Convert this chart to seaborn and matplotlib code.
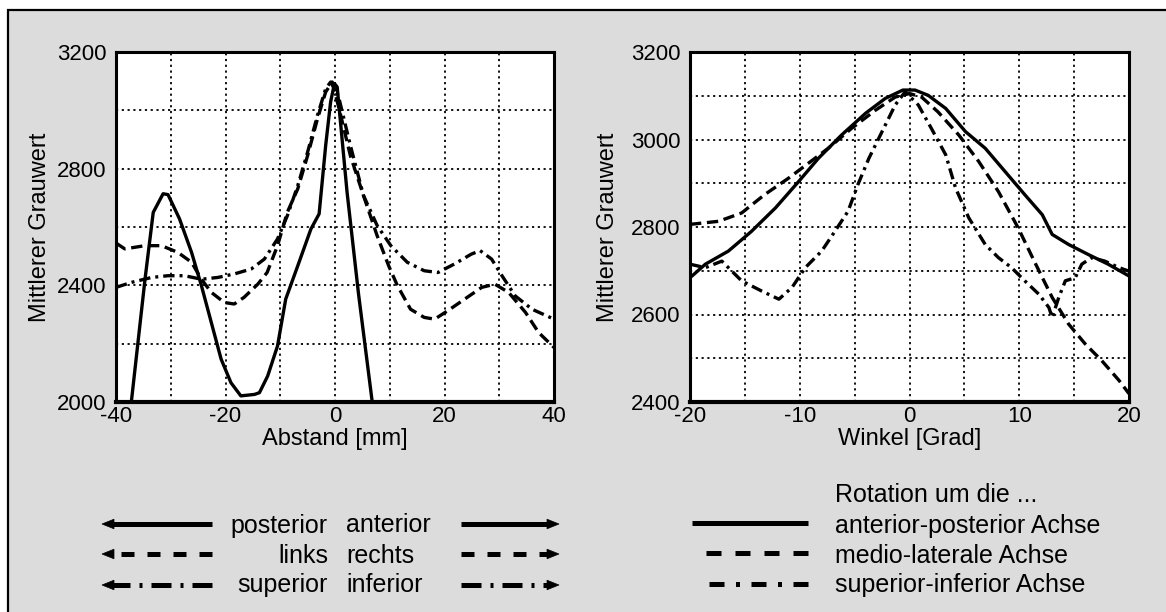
import matplotlib
matplotlib.use("Agg")
import numpy as np
import pandas as pd
import seaborn as sns
import matplotlib.pyplot as plt
from matplotlib.patches import Rectangle, Polygon

plt.rcParams['font.family'] = ['Liberation Sans', 'DejaVu Sans']
plt.rcParams['axes.unicode_minus'] = False

# ---------------- data: left panel (Abstand [mm]) ----------------
pa_x = [-37.6, -37.2, -34.7, -33.2, -31.4, -30.5, -28.4, -26.2, -24.4, -22.6, -20.8, -19.0,
        -17.2, -14.7, -13.8, -12.3, -10.5, -9.0, -6.8, -4.4, -2.9, -1.7, -0.8, -0.1, 0.4,
        2.2, 4.3, 6.8, 7.1]
pa_y = [1950, 2000, 2421, 2650, 2714, 2711, 2628, 2513, 2399, 2273, 2147, 2066,
        2021, 2026, 2032, 2089, 2192, 2353, 2467, 2593, 2645, 2880, 3029, 3092, 3080,
        2720, 2370, 2000, 1960]

lr_x = [-40, -38.4, -34.7, -31.7, -28.7, -26.2, -24.4, -22.6, -20.2, -18.4, -16.6, -14.1,
        -12.4, -10.5, -8.7, -6.8, -5.0, -3.2, -1.7, -0.5, 0.9, 2.8, 5.2, 7.7, 9.8, 11.4,
        13.8, 16.3, 18.2, 20.6, 23.7, 26.8, 29.2, 31.7, 34.8, 37.2, 40]
lr_y = [2545, 2525, 2536, 2536, 2513, 2479, 2421, 2376, 2341, 2336, 2359, 2404,
        2444, 2536, 2651, 2731, 2845, 2971, 3063, 3097, 2994, 2845, 2708, 2570, 2467, 2399,
        2318, 2290, 2284, 2313, 2353, 2393, 2404, 2376, 2307, 2238, 2187]

si_x = [-40, -37.2, -33.5, -30.5, -27.5, -24.4, -21.4, -18.4, -15.3, -12.9, -10.5, -8.7,
        -6.8, -5.0, -3.2, -1.7, -0.8, 0.6, 2.8, 5.2, 7.7, 10.2, 13.2, 16.3, 18.8, 21.8,
        24.9, 26.5, 28.6, 30.5, 32.9, 36.0, 40]
si_y = [2393, 2410, 2427, 2433, 2433, 2421, 2427, 2439, 2456, 2490, 2559, 2639,
        2742, 2857, 2983, 3074, 3097, 3051, 2880, 2708, 2605, 2536, 2479, 2450, 2444, 2473,
        2507, 2519, 2490, 2433, 2364, 2318, 2284]

# ---------------- data: right panel (Winkel [Grad]) ----------------
rap_x = [-20, -18.6, -16.5, -14.4, -12.2, -10.1, -8.3, -6.2, -4.0, -2.2, -0.6, 0.5, 1.7,
         3.3, 5.1, 6.9, 8.7, 10.5, 12.1, 13.0, 14.5, 16.3, 18.1, 20]
rap_y = [2684, 2715, 2745, 2790, 2844, 2904, 2957, 3010, 3060, 3094, 3113, 3113, 3101,
         3071, 3018, 2980, 2927, 2874, 2828, 2783, 2760, 2737, 2715, 2688]

rml_x = [-20, -17.4, -15.3, -13.2, -11.0, -9.2, -7.4, -5.3, -3.1, -1.3, 0.0, 1.1, 2.6,
         4.5, 6.3, 8.1, 9.9, 11.5, 13.0, 14.5, 16.0, 17.5, 19.1, 20]
rml_y = [2806, 2813, 2832, 2874, 2912, 2946, 2980, 3025, 3067, 3097, 3105, 3097, 3063,
         3010, 2950, 2881, 2798, 2715, 2639, 2578, 2533, 2495, 2449, 2419]

rsi_x = [-20, -18.6, -17.1, -15.3, -13.5, -11.9, -10.7, -9.5, -8.0, -6.8, -5.6, -4.7,
         -3.7, -2.5, -1.3, -0.4, 0.8, 2.0, 3.3, 4.2, 5.4, 6.9, 8.1, 9.3, 10.5, 11.8, 12.7,
         13.0, 13.6, 14.2, 15.1, 15.7, 16.6, 17.8, 19.1, 20]
rsi_y = [2715, 2707, 2722, 2677, 2654, 2635, 2662, 2707, 2745, 2790, 2836, 2897,
         2957, 3018, 3079, 3109, 3079, 3025, 2965, 2889, 2821, 2760, 2730, 2707, 2677, 2646, 2616,
         2593, 2639, 2677, 2684, 2715, 2730, 2722, 2707, 2699]

left_xticks = [-40, -20, 0, 20, 40]
left_xminor = [-30, -10, 10, 30]
left_yticks = [2000, 2400, 2800, 3200]
left_yminor = [2200, 2600, 3000]
right_xticks = [-20, -10, 0, 10, 20]
right_xminor = [-15, -5, 5, 15]
right_yticks = [2400, 2600, 2800, 3000, 3200]
right_yminor = [2500, 2700, 2900, 3100]

# ---------------- figure ----------------
W, H = 1166, 612
fig = plt.figure(figsize=(W / 100, H / 100), dpi=100, facecolor='white')

bg = fig.add_axes([0, 0, 1, 1], zorder=0)
bg.set_xlim(0, W)
bg.set_ylim(H, 0)
bg.axis('off')
bg.add_patch(Rectangle((8, 10), W + 20, H + 20, facecolor='#dcdcdc',
                       edgecolor='black', lw=1.6))


def px_axes(x0, x1, y0, y1):
    return fig.add_axes([x0 / W, 1 - y1 / H, (x1 - x0) / W, (y1 - y0) / H], zorder=1)


ax1 = px_axes(116, 554, 52, 402)
ax2 = px_axes(690, 1129, 52, 402)

DASH = (3.4, 1.7)
DASHDOT = (3.4, 1.5, 0.9, 1.5)


def frame(xs, ys, name):
    return pd.DataFrame({'x': xs, 'y': ys, 's': name})


df_left = pd.concat([frame(pa_x, pa_y, 'posterior-anterior'),
                     frame(lr_x, lr_y, 'links-rechts'),
                     frame(si_x, si_y, 'superior-inferior')], ignore_index=True)
df_right = pd.concat([frame(rap_x, rap_y, 'anterior-posterior Achse'),
                      frame(rml_x, rml_y, 'medio-laterale Achse'),
                      frame(rsi_x, rsi_y, 'superior-inferior Achse')], ignore_index=True)

sns.lineplot(data=df_left, x='x', y='y', style='s',
             dashes={'posterior-anterior': '', 'links-rechts': DASH,
                     'superior-inferior': DASHDOT},
             color='black', lw=2.4, legend=False, estimator=None, sort=False, ax=ax1)
sns.lineplot(data=df_right, x='x', y='y', style='s',
             dashes={'anterior-posterior Achse': '', 'medio-laterale Achse': DASH,
                     'superior-inferior Achse': DASHDOT},
             color='black', lw=2.4, legend=False, estimator=None, sort=False, ax=ax2)

ax1.set_xlim(-40, 40)
ax1.set_ylim(2000, 3200)
ax1.set_xticks(left_xticks)
ax1.set_xticks(left_xminor, minor=True)
ax1.set_yticks(left_yticks)
ax1.set_yticks(left_yminor, minor=True)
ax1.set_xlabel('Abstand [mm]', fontsize=17)
ax1.yaxis.set_label_coords(-0.148, 0.5)

ax2.set_xlim(-20, 20)
ax2.set_ylim(2400, 3200)
ax2.set_xticks(right_xticks)
ax2.set_xticks(right_xminor, minor=True)
ax2.set_yticks(right_yticks)
ax2.set_yticks(right_yminor, minor=True)
ax2.set_xlabel('Winkel [Grad]', fontsize=17)
ax2.yaxis.set_label_coords(-0.162, 0.5)

for ax in (ax1, ax2):
    ax.set_facecolor('white')
    ax.set_ylabel('Mittlerer Grauwert', fontsize=17)
    ax.xaxis.set_label_coords(0.5, -0.074)
    ax.grid(True, which='both', color='black', linestyle=(0, (1.2, 2.0)), linewidth=1.3)
    ax.set_axisbelow(True)
    ax.tick_params(which='both', length=0, labelsize=16, colors='black')
    ax.tick_params(axis='y', pad=7)
    ax.tick_params(axis='x', pad=3)
    for s in ax.spines.values():
        s.set_linewidth(2.2)
        s.set_color('black')
    ax.spines['bottom'].set_linewidth(3.0)

# ---------------- legends (drawn in pixel space) ----------------
FS = 18
LW = 3.6
rows = [524, 554, 585]
bases = [532.5, 563, 592]
styles = ['-', (0, (2.6, 2.6)), (0, (4.0, 1.8, 0.6, 1.8))]


def head(xtip, y, direction):
    xb = xtip - 12 * direction
    bg.add_patch(Polygon([(xtip, y), (xb, y - 4.8), (xb, y + 4.8)],
                         closed=True, facecolor='black', edgecolor='black', lw=0.5))


for y, ls in zip(rows, styles):
    bg.plot([212, 113], [y, y], color='black', lw=LW, linestyle=ls,
            solid_capstyle='butt', dash_capstyle='butt')
    head(102, y, -1)
    bg.plot([461, 548], [y, y], color='black', lw=LW, linestyle=ls,
            solid_capstyle='butt', dash_capstyle='butt')
    head(559, y, 1)

left_names = ['posterior', 'links', 'superior']
right_names = ['anterior', 'rechts', 'inferior']
for b, ln, rn in zip(bases, left_names, right_names):
    bg.text(328, b, ln, ha='right', va='baseline', fontsize=FS)
    bg.text(346, b, rn, ha='left', va='baseline', fontsize=FS)

bg.text(835, 502, 'Rotation um die ...', ha='left', va='baseline', fontsize=FS)
rstyles = ['-', (0, (3.0, 2.8)), (0, (3.0, 2.3, 0.8, 2.3))]
rstarts = [692, 692, 703]
rnames = ['anterior-posterior Achse', 'medio-laterale Achse', 'superior-inferior Achse']
for y, b, ls, xs, nm in zip(rows, bases, rstyles, rstarts, rnames):
    bg.plot([808, xs], [y - 1, y - 1], color='black', lw=LW, linestyle=ls,
            solid_capstyle='butt', dash_capstyle='butt')
    bg.text(835, b, nm, ha='left', va='baseline', fontsize=FS)

fig.savefig('out.png', dpi=100, facecolor=fig.get_facecolor())
